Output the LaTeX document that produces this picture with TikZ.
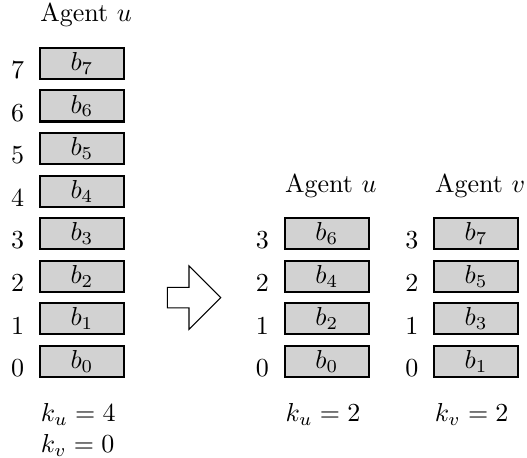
\documentclass[tikz,border=0pt]{standalone}
\usepackage{amsmath}
\usepackage{tikz}
\usetikzlibrary{positioning, calc}

\begin{document}
\begin{tikzpicture}[
    slot/.style={draw=black, thick, fill=gray!35, minimum width=1.14cm, minimum height=0.42cm, inner sep=0pt},
    idx/.style={anchor=base, inner sep=0pt},
    agent/.style={anchor=base, inner sep=0pt},
    count/.style={anchor=base west, inner sep=0pt}
  ]

  % --- Define Dimensions ---
  \def\rowH{0.576}
  \def\numX{0.87}
  \def\numY{0.205}
  \def\colU{3.31}
  \def\colV{5.33}

  \useasboundingbox (-1.109, -1.292) rectangle (6.018, 4.889);

  % --- Before: Agent u holds all eight blocks ---
  \foreach \i in {0,...,7} {
    \node[slot] (L\i) at (0, \i*\rowH) {$b_{\i}$};
    \node[idx] (Ln\i) at (-\numX, \i*\rowH-\numY) {\i};
  }
  \node[agent] (Lhead) at ($(L7.north)+(0.055,0.34)$) {Agent $u$};

  \node[count] (kua) at ($(L0.south west)+(0.02,-0.59)$) {$k_u = 4$};
  \node[count] (kva) at ($(kua.base west)+(0,-0.42)$) {$k_v = 0$};

  % --- Split Arrow ---
  \coordinate (arr) at (1.154, 0.863);
  \draw (arr) -- ++(0,0.139) -- ++(0.293,0) -- ++(0,0.291) -- ++(0.429,-0.43)
        -- ++(-0.429,-0.43) -- ++(0,0.291) -- ++(-0.293,0) -- cycle;

  % --- After: even blocks to u, odd blocks to v ---
  \foreach \i in {0,...,3} {
    \pgfmathtruncatemacro\ev{2*\i}
    \pgfmathtruncatemacro\od{2*\i+1}
    \node[slot] (U\i) at (\colU, \i*\rowH) {$b_{\ev}$};
    \node[idx] (Un\i) at (\colU-\numX, \i*\rowH-\numY) {\i};
    \node[slot] (V\i) at (\colV, \i*\rowH) {$b_{\od}$};
    \node[idx] (Vn\i) at (\colV-\numX, \i*\rowH-\numY) {\i};
  }
  \node[agent] (Uhead) at ($(U3.north)+(0.055,0.34)$) {Agent $u$};
  \node[agent] (Vhead) at ($(V3.north)+(0.055,0.34)$) {Agent $v$};

  \node[count] (kub) at ($(U0.south west)+(0.02,-0.59)$) {$k_u = 2$};
  \node[count] (kvb) at ($(V0.south west)+(0.02,-0.59)$) {$k_v = 2$};

\end{tikzpicture}
\end{document}
